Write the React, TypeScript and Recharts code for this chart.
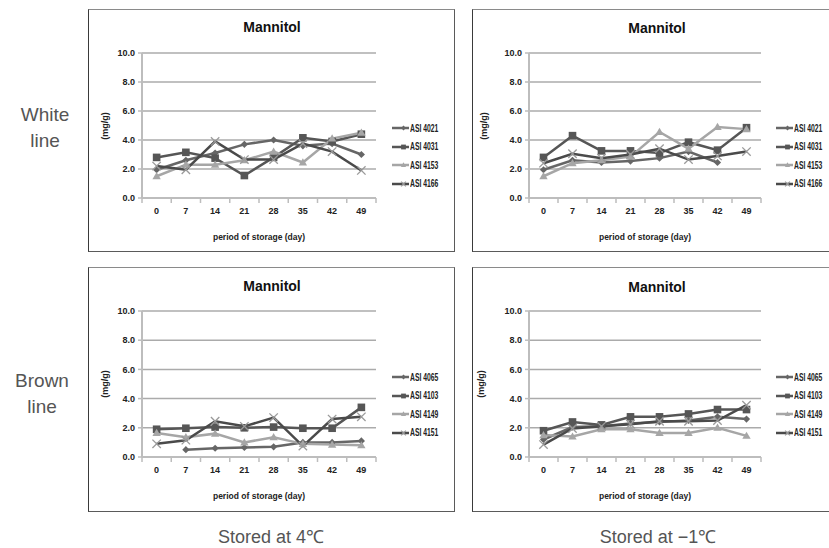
import { CartesianGrid, Legend, Line, LineChart, XAxis, YAxis } from 'recharts';

// storage days and axis ticks
const days = [0, 7, 14, 21, 28, 35, 42, 49];
const yTicks = [0, 2, 4, 6, 8, 10];
// category boundaries (Excel puts tick marks between categories)
const xBounds = [-3.5, 3.5, 10.5, 17.5, 24.5, 31.5, 38.5, 45.5, 52.5];

const whiteNames = ['ASI 4021', 'ASI 4031', 'ASI 4153', 'ASI 4166'];
const brownNames = ['ASI 4065', 'ASI 4103', 'ASI 4149', 'ASI 4151'];

// White line, stored at 4°C
const white4_4021 = [1.95, 2.6, 3.1, 3.7, 4.0, 3.6, 3.75, 3.0];
const white4_4031 = [2.8, 3.15, 2.75, 1.55, 2.8, 4.15, 3.9, 4.4];
const white4_4153 = [1.5, 2.3, 2.3, 2.6, 3.2, 2.45, 4.1, 4.5];
const white4_4166 = [2.2, 1.95, 3.9, 2.65, 2.65, 3.75, 3.2, 1.9];

// White line, stored at -1°C
const whiteM1_4021 = [1.95, 2.6, 2.45, 2.55, 2.75, 3.2, 2.45, null];
const whiteM1_4031 = [2.8, 4.3, 3.25, 3.25, 3.1, 3.85, 3.3, 4.85];
const whiteM1_4153 = [1.5, 2.4, 2.6, 2.85, 4.55, 3.4, 4.9, 4.75];
const whiteM1_4166 = [2.4, 3.05, 2.75, 3.0, 3.4, 2.65, 2.9, 3.2];

// Brown line, stored at 4°C
const brown4_4065 = [null, 0.5, 0.6, 0.65, 0.7, 1.0, 1.0, 1.1];
const brown4_4103 = [1.9, 1.97, 2.05, 2.0, 2.05, 1.97, 1.97, 3.4];
const brown4_4149 = [1.65, 1.35, 1.6, 1.0, 1.35, 0.9, 0.85, 0.8];
const brown4_4151 = [0.9, 1.15, 2.45, 2.1, 2.7, 0.75, 2.6, 2.75];

// Brown line, stored at -1°C
const brownM1_4065 = [1.2, 2.05, 2.1, 2.3, 2.4, 2.5, 2.75, 2.6];
const brownM1_4103 = [1.8, 2.4, 2.2, 2.75, 2.75, 2.95, 3.25, 3.25];
const brownM1_4149 = [1.5, 1.4, 1.9, 1.9, 1.65, 1.65, 2.0, 1.45];
const brownM1_4151 = [0.85, 1.95, 2.1, 2.25, 2.45, 2.45, 2.5, 3.55];

const seriesKeys = ['s0', 's1', 's2', 's3'];
const seriesColors = ['#666666', '#565656', '#a6a6a6', '#4a4a4a'];
const seriesShapes = ['diamond', 'square', 'triangle', 'cross'];

const FONT = '"Liberation Sans", Arial, sans-serif';

function buildRows(series: (number | null)[][]) {
  return days.map((d, i) => {
    const row: Record<string, number | null> = { day: d };
    series.forEach((s, k) => {
      row[seriesKeys[k]] = s[i];
    });
    return row;
  });
}

function Marker({ shape, cx, cy, r, color }: any) {
  if (cx == null || cy == null || Number.isNaN(cx) || Number.isNaN(cy)) return <g />;
  if (shape === 'diamond') {
    return (
      <polygon
        points={`${cx},${cy - r} ${cx + r},${cy} ${cx},${cy + r} ${cx - r},${cy}`}
        fill={color}
      />
    );
  }
  if (shape === 'square') {
    return <rect x={cx - r} y={cy - r} width={r * 2} height={r * 2} fill={color} />;
  }
  if (shape === 'triangle') {
    return (
      <polygon
        points={`${cx},${cy - r * 1.1} ${cx + r * 1.1},${cy + r * 0.8} ${cx - r * 1.1},${cy + r * 0.8}`}
        fill={color}
      />
    );
  }
  return (
    <g stroke='#9a9a9a' strokeWidth={1.3}>
      <line x1={cx - r} y1={cy - r} x2={cx + r} y2={cy + r} />
      <line x1={cx - r} y1={cy + r} x2={cx + r} y2={cy - r} />
    </g>
  );
}

const markerSize: Record<string, number> = { diamond: 3.6, square: 3.8, triangle: 3.8, cross: 4.2 };

function renderLegend(props: any) {
  const { payload } = props;
  return (
    <div>
      {(payload || []).map((p: any) => {
        const k = seriesKeys.indexOf(p.dataKey);
        return (
          <div key={p.value} style={{ height: 18.5, display: 'flex', alignItems: 'center' }}>
            <svg width={23} height={10} style={{ display: 'block' }}>
              <line x1={0} y1={5} x2={23} y2={5} stroke={seriesColors[k]} strokeWidth={2.5} />
              <Marker shape={seriesShapes[k]} cx={11.5} cy={5} r={2.4} color={seriesColors[k]} />
            </svg>
            <span
              style={{
                display: 'inline-block',
                fontFamily: FONT,
                fontSize: 10,
                fontWeight: 700,
                color: '#222',
                marginLeft: 1,
                lineHeight: '11px',
                whiteSpace: 'nowrap',
                transform: 'scaleX(0.68)',
                transformOrigin: 'left center',
              }}
            >
              {p.value}
            </span>
          </div>
        );
      })}
    </div>
  );
}

interface PanelProps {
  left: number;
  top: number;
  width: number;
  height: number;
  plotLeft: number;
  plotRight: number;
  plotTop: number;
  plotBottom: number;
  yLabelX: number;
  titleX: number;
  titleY: number;
  legendLeft: number;
  legendTop: number;
  names: string[];
  series: (number | null)[][];
}

function Panel(p: PanelProps) {
  const rows = buildRows(p.series);
  const plotW = p.width - p.plotLeft - p.plotRight;
  const plotH = p.height - p.plotTop - p.plotBottom;
  const halfBand = plotW / 16;

  const XTick = ({ x, y, payload }: any) => {
    const v = payload.value + 3.5;
    if (v > 49) return <g />;
    return (
      <text
        x={x + halfBand}
        y={y}
        dy='0.71em'
        textAnchor='middle'
        fontFamily={FONT}
        fontSize={9}
        fontWeight={700}
        fill='#222'
      >
        {v}
      </text>
    );
  };

  return (
    <div
      style={{
        position: 'absolute',
        left: p.left,
        top: p.top,
        width: p.width,
        height: p.height,
      }}
    >
      <div
        style={{
          position: 'absolute',
          inset: 0,
          boxSizing: 'border-box',
          borderTop: '1.5px solid #8a8a8a',
          borderLeft: '1.5px solid #3a3a3a',
          borderRight: '1.5px solid #5a5a5a',
          borderBottom: '1.5px solid #5a5a5a',
        }}
      />
      <LineChart
        width={p.width}
        height={p.height}
        data={rows}
        margin={{ top: p.plotTop, right: p.plotRight, bottom: p.plotBottom - 54, left: 0 }}
        style={{ position: 'absolute', left: 0, top: 0 }}
      >
        <CartesianGrid vertical={false} stroke='#ababab' strokeWidth={1.5} />
        <XAxis
          dataKey='day'
          type='number'
          domain={[-3.5, 52.5]}
          ticks={xBounds}
          interval={0}
          height={54}
          axisLine={{ stroke: '#bdbdbd', strokeWidth: 2 }}
          tickLine={{ stroke: '#bdbdbd', strokeWidth: 1.5 }}
          tickSize={5}
          tickMargin={5}
          tick={<XTick />}
          label={{
            value: 'period of storage (day)',
            position: 'insideBottom',
            offset: 12,
            fontFamily: FONT,
            fontSize: 8.5,
            fontWeight: 700,
            fill: '#222',
          }}
        />
        <YAxis
          domain={[0, 10]}
          ticks={yTicks}
          interval={0}
          width={p.plotLeft}
          axisLine={{ stroke: '#bdbdbd', strokeWidth: 2 }}
          tickLine={{ stroke: '#bdbdbd', strokeWidth: 1.5 }}
          tickSize={4}
          tickMargin={3}
          tickFormatter={(v: number) => v.toFixed(1)}
          tick={{ fontFamily: FONT, fontSize: 9, fontWeight: 700, fill: '#222' }}
        />
        <Legend
          layout='vertical'
          align='center'
          verticalAlign='middle'
          content={renderLegend}
          wrapperStyle={{ left: p.legendLeft, top: p.legendTop, width: 60 }}
        />
        {seriesKeys.map((k, i) => (
          <Line
            key={k}
            dataKey={k}
            name={p.names[i]}
            stroke={seriesColors[i]}
            strokeWidth={2.5}
            isAnimationActive={false}
            dot={(d: any) => (
              <Marker
                key={`${k}-${d.index}`}
                shape={seriesShapes[i]}
                cx={d.value == null ? null : d.cx}
                cy={d.value == null ? null : d.cy}
                r={markerSize[seriesShapes[i]]}
                color={seriesColors[i]}
              />
            )}
            activeDot={false}
          />
        ))}
      </LineChart>
      <div
        style={{
          position: 'absolute',
          left: p.titleX - 60,
          top: p.titleY - 9,
          width: 120,
          textAlign: 'center',
          fontFamily: FONT,
          fontWeight: 700,
          fontSize: 14,
          lineHeight: '18px',
          color: '#111',
        }}
      >
        Mannitol
      </div>
      <div
        style={{
          position: 'absolute',
          left: p.yLabelX - 30,
          top: p.plotTop + plotH / 2 - 6,
          width: 60,
          height: 12,
          textAlign: 'center',
          fontFamily: FONT,
          fontWeight: 700,
          fontSize: 9,
          lineHeight: '12px',
          color: '#222',
          transform: 'rotate(-90deg)',
        }}
      >
        (mg/g)
      </div>
    </div>
  );
}

const sideStyle = {
  position: 'absolute' as const,
  fontFamily: FONT,
  fontSize: 19,
  fontWeight: 300,
  color: '#555',
  textAlign: 'center' as const,
  lineHeight: '26px',
};

export default function App() {
  return (
    <div
      style={{
        position: 'absolute',
        left: 0,
        top: 0,
        width: 829,
        height: 548,
        overflow: 'hidden',
        background: '#fff',
      }}
    >
      <div style={{ ...sideStyle, left: 0, top: 102, width: 90 }}>
        White
        <br />
        line
      </div>
      <div style={{ ...sideStyle, left: 0, top: 368, width: 84 }}>
        Brown
        <br />
        line
      </div>

      <Panel
        left={88}
        top={9}
        width={367}
        height={243}
        plotLeft={54}
        plotRight={79}
        plotTop={44}
        plotBottom={54}
        yLabelX={17}
        titleX={184}
        titleY={18}
        legendLeft={304}
        legendTop={110}
        names={whiteNames}
        series={[white4_4021, white4_4031, white4_4153, white4_4166]}
      />
      <Panel
        left={472}
        top={9}
        width={380}
        height={243}
        plotLeft={57}
        plotRight={91}
        plotTop={44}
        plotBottom={54}
        yLabelX={12}
        titleX={185}
        titleY={19}
        legendLeft={304}
        legendTop={110}
        names={whiteNames}
        series={[whiteM1_4021, whiteM1_4031, whiteM1_4153, whiteM1_4166]}
      />
      <Panel
        left={88}
        top={267}
        width={367}
        height={245}
        plotLeft={54}
        plotRight={79}
        plotTop={44}
        plotBottom={55}
        yLabelX={17}
        titleX={184}
        titleY={19}
        legendLeft={304}
        legendTop={101}
        names={brownNames}
        series={[brown4_4065, brown4_4103, brown4_4149, brown4_4151]}
      />
      <Panel
        left={472}
        top={267}
        width={380}
        height={245}
        plotLeft={57}
        plotRight={91}
        plotTop={44}
        plotBottom={55}
        yLabelX={9}
        titleX={185}
        titleY={20}
        legendLeft={304}
        legendTop={101}
        names={brownNames}
        series={[brownM1_4065, brownM1_4103, brownM1_4149, brownM1_4151]}
      />

      <div
        style={{
          position: 'absolute',
          left: 171,
          top: 524,
          width: 200,
          textAlign: 'center',
          fontFamily: FONT,
          fontSize: 18,
          fontWeight: 300,
          color: '#555',
        }}
      >
        Stored at 4℃
      </div>
      <div
        style={{
          position: 'absolute',
          left: 558,
          top: 524,
          width: 200,
          textAlign: 'center',
          fontFamily: FONT,
          fontSize: 18,
          fontWeight: 300,
          color: '#555',
        }}
      >
        Stored at −1℃
      </div>
    </div>
  );
}
